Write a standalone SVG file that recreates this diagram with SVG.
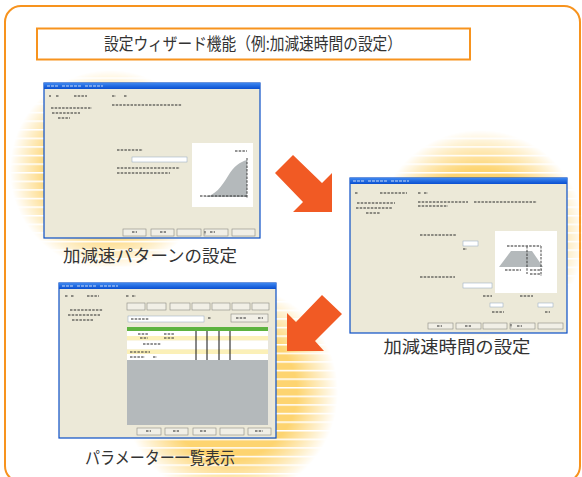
<svg xmlns="http://www.w3.org/2000/svg" width="582" height="477" viewBox="0 0 582 477">
<defs>
<style>
.lbl{font-family:"Noto Sans CJK JP","Noto Sans",sans-serif;fill:#333;}
.win{fill:#ECE9D8;stroke:#0B4FC7;stroke-width:1.2;}
.tbar{fill:url(#tb);}
.btn{fill:#F1EFE6;stroke:#8A8A82;stroke-width:0.6;}
.fld{fill:#fff;stroke:#8FA6BF;stroke-width:0.5;}
.txt{stroke:#333;stroke-width:1.3;fill:none;opacity:0.7;stroke-dasharray:2.5 1.2;}
.ttl{stroke:#fff;stroke-width:1.2;fill:none;opacity:0.75;stroke-dasharray:3 1;}
.chart{fill:#fff;}
.shade{fill:#B4B9BB;}
.arrow{fill:#F15A24;}
</style>
<linearGradient id="tb" x1="0" y1="0" x2="0" y2="1">
<stop offset="0" stop-color="#3C86F0"/>
<stop offset="1" stop-color="#0A4FD0"/>
</linearGradient>
<pattern id="stripes" patternUnits="userSpaceOnUse" width="20" height="8.6">
<rect width="20" height="8.6" fill="#FDD470"/>
<rect width="20" height="1.5" fill="#fff"/>
</pattern>
<radialGradient id="fade">
<stop offset="0" stop-color="#fff"/>
<stop offset="0.62" stop-color="#fff"/>
<stop offset="1" stop-color="#000"/>
</radialGradient>
<mask id="glowMask" maskUnits="userSpaceOnUse" x="0" y="0" width="582" height="477">
<rect width="582" height="477" fill="#000"/>
<circle cx="110" cy="170" r="100" fill="url(#fade)"/>
<circle cx="480" cy="235" r="105" fill="url(#fade)"/>
<circle cx="230" cy="392" r="108" fill="url(#fade)"/>
</mask>
</defs>

<rect width="582" height="477" fill="#fff"/>

<g id="frame">
<rect x="5" y="6" width="575" height="476" rx="16" fill="#fff" stroke="#F7931E" stroke-width="2"/>
</g>

<g id="glows">
<rect x="0" y="0" width="582" height="477" fill="url(#stripes)" mask="url(#glowMask)"/>
</g>

<g id="title">
<rect x="37" y="28.5" width="433" height="31" fill="#fff" stroke="#F7931E" stroke-width="2"/>
<text class="lbl" x="253" y="50" font-size="17" text-anchor="middle" textLength="298" lengthAdjust="spacingAndGlyphs">設定ウィザード機能（例:加減速時間の設定）</text>
</g>

<g id="step1">
<rect class="win" x="44" y="83" width="216" height="155"/>
<rect class="tbar" x="44" y="83" width="216" height="6"/>
<path class="ttl" d="M47,86h12M62,86h20M85,86h18"/>
<path class="txt" d="M49,96h2M56,96h3M74,96h13M112,96h4M124,96h3M51,108h41M52,113h28M58,118h12M112,105h70M117,150h26M117,168h63M117,173h53"/>
<rect class="fld" x="132" y="157" width="55" height="5"/>
<rect class="chart" x="192" y="143" width="61" height="64"/>
<path class="shade" d="M204,197C215,196 222,186 228,176C234,166 240,162 247,160L247,197Z"/>
<path class="txt" d="M200,196h48M247,158v40M235,151h12" stroke-width="0.8"/>
<rect class="btn" x="123" y="229" width="23" height="7"/>
<rect class="btn" x="151" y="229" width="23" height="7"/>
<rect class="btn" x="177" y="229" width="24" height="7"/>
<rect class="btn" x="204" y="229" width="24" height="7"/>
<rect class="btn" x="232" y="229" width="23" height="7"/>
<path class="txt" d="M132,232h5M160,232h6M205,231v4M210,232h5"/>
<text class="lbl" x="150" y="262" font-size="17" text-anchor="middle" textLength="174" lengthAdjust="spacingAndGlyphs">加減速パターンの設定</text>
</g>

<g id="step2">
<rect class="win" x="350" y="178" width="217" height="155"/>
<rect class="tbar" x="350" y="178" width="217" height="6"/>
<path class="ttl" d="M353,181h12M368,181h20M391,181h18"/>
<path class="txt" d="M355,193h3M380,193h27M418,193h3M424,193h4M357,203h38M356,208h36M366,213h14M418,202h50M474,202h63M418,206h30M420,235h37M463,249h4M420,277h35M483,296h9M520,296h13M492,312h12M545,312h5"/>
<rect class="fld" x="463" y="241" width="15" height="5"/>
<rect class="fld" x="463" y="283" width="29" height="5"/>
<rect class="fld" x="490" y="303" width="13" height="4"/>
<rect class="fld" x="538" y="303" width="15" height="4"/>
<rect class="chart" x="495" y="231" width="62" height="62"/>
<path class="shade" d="M499,267L511,251L532,251L543,267Z"/>
<path class="txt" d="M507,246h34M527,246v28M541,246v30M505,270h16M530,270h12M530,274h10" stroke-width="0.8"/>
<rect class="btn" x="428" y="323" width="25" height="6"/>
<rect class="btn" x="456" y="323" width="25" height="6"/>
<rect class="btn" x="483" y="323" width="24" height="6"/>
<rect class="btn" x="510" y="323" width="25" height="6"/>
<rect class="btn" x="538" y="323" width="25" height="6"/>
<path class="txt" d="M437,326h5M465,326h6M511,324v4M517,326h5"/>
<text class="lbl" x="457" y="353" font-size="17" text-anchor="middle" textLength="147" lengthAdjust="spacingAndGlyphs">加減速時間の設定</text>
</g>

<g id="step3">
<rect class="win" x="59" y="283" width="217" height="155"/>
<rect class="tbar" x="59" y="283" width="217" height="6"/>
<path class="ttl" d="M62,286h12M77,286h20M100,286h18"/>
<path class="txt" d="M65,296h3M71,296h3M87,296h12M126,296h3M132,296h4M70,310h33M68,315h32M72,320h22"/>
<rect class="btn" x="127" y="303" width="18" height="7"/>
<rect class="btn" x="147" y="303" width="19" height="7"/>
<rect class="btn" x="170" y="303" width="20" height="7"/>
<rect class="btn" x="192" y="303" width="18" height="7"/>
<rect class="btn" x="212" y="303" width="18" height="7"/>
<rect class="btn" x="232" y="303" width="18" height="7"/>
<rect class="btn" x="252" y="303" width="17" height="7"/>
<rect class="fld" x="128" y="316" width="76" height="6"/>
<rect class="btn" x="231" y="314" width="37" height="8"/>
<path class="txt" d="M131,319h18M208,318h3M236,318h10M258,318h5"/>
<rect x="127" y="327" width="141" height="4" fill="#5DB33F"/>
<rect x="127" y="331" width="141" height="5" fill="#fff"/>
<rect x="127" y="336" width="141" height="4.5" fill="#FBF0B8"/>
<rect x="127" y="340.5" width="141" height="9" fill="#fff"/>
<rect x="127" y="349.5" width="141" height="4.5" fill="#FBF0B8"/>
<rect x="127" y="354" width="141" height="6" fill="#fff"/>
<rect x="127" y="360" width="141" height="65" fill="#B4B9BB"/>
<rect x="268" y="327" width="4" height="98" fill="#E8E6DC"/>
<path d="M196,331v29M207,331v29M219,331v29M230,331v29" stroke="#111" stroke-width="1"/>
<path class="txt" d="M138,334h10M164,334h10M140,338h8M164,338h10M143,344h18M130,352h20M130,357h15M153,357h4"/>
<rect class="btn" x="137" y="428" width="24" height="7"/>
<rect class="btn" x="165" y="428" width="23" height="7"/>
<rect class="btn" x="193" y="428" width="23" height="7"/>
<rect class="btn" x="220" y="428" width="24" height="7"/>
<rect class="btn" x="248" y="428" width="23" height="7"/>
<path class="txt" d="M146,431h5M173,431h6M200,431h6M255,431h8"/>
<text class="lbl" x="160" y="464" font-size="17" text-anchor="middle" textLength="150" lengthAdjust="spacingAndGlyphs">パラメーター一覧表示</text>
</g>

<g id="connectors">
<polygon class="arrow" points="275,173 293,155 322,183 332,173 332,212 293,212 303,202"/>
<polygon class="arrow" points="322,295 342,314 315,341 324,351 287,351 287,313 296,322"/>
</g>
</svg>
